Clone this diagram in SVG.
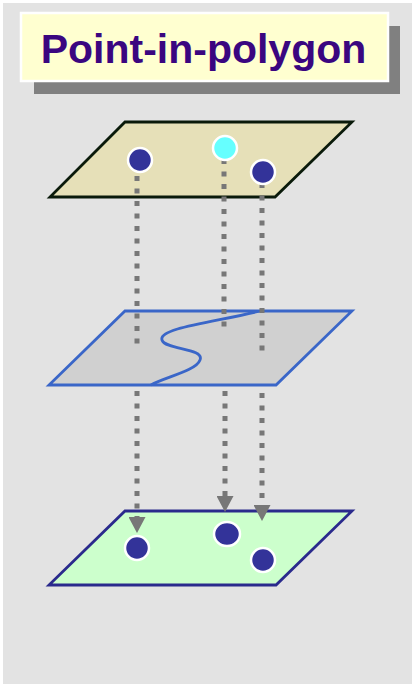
<svg xmlns="http://www.w3.org/2000/svg" width="416" height="687" viewBox="0 0 416 687">
<defs>
<style>
.bg{fill:#e3e3e3}
.title{font-family:"Liberation Sans",Arial,sans-serif;font-weight:bold;font-size:41px;fill:#3a0680}
.dot{fill:#333399;stroke:#ffffff;stroke-width:2.5}
.dotc{fill:#66ffff;stroke:#ffffff;stroke-width:2.5}
.conn{stroke:#777777;stroke-width:5;stroke-dasharray:5 7.5;fill:none}
.arr{stroke:#777777;stroke-width:5;stroke-dasharray:5 7.5;fill:none;marker-end:url(#ah)}
</style>
<marker id="ah" viewBox="0 0 10 10" refX="0" refY="5" markerUnits="userSpaceOnUse" markerWidth="16" markerHeight="17" orient="auto" preserveAspectRatio="none">
<path d="M0,0 L10,5 L0,10 z" fill="#777777"/>
</marker>
</defs>
<rect class="bg" x="3" y="3" width="409" height="681"/>
<g id="title">
<rect x="34" y="26" width="366" height="68" fill="#808080"/>
<rect x="21" y="13" width="367" height="68" fill="#ffffd0" stroke="#ffffff" stroke-width="2.5"/>
<text class="title" x="203.5" y="63" text-anchor="middle">Point-in-polygon</text>
</g>
<g id="layer-points">
<polygon points="125,122 352,122 275,197 50,197" fill="#e6e0b8" stroke="#0a1a0a" stroke-width="2.8"/>
</g>
<g id="layer-polygons">
<polygon points="125,311 352,311 276,385 49,385" fill="#d0d0d0" stroke="#3a66c8" stroke-width="2.8"/>
<path d="M260,311 C215,322 158,328 162,340 C165,350 205,348 200,360 C196,371 165,377 151,385" fill="none" stroke="#3a66c8" stroke-width="2.8"/>
</g>
<g id="layer-result">
<polygon points="125,511 352,511 276,585 49,585" fill="#ccffcc" stroke="#2a2a8c" stroke-width="2.8"/>
</g>
<g id="connectors">
<line class="conn" x1="137" y1="176" x2="137" y2="348"/>
<line class="conn" x1="224" y1="159" x2="224" y2="331"/>
<line class="conn" x1="262" y1="183" x2="262" y2="356"/>
<line class="arr" x1="137" y1="391" x2="137" y2="517"/>
<line class="arr" x1="225" y1="391" x2="225" y2="496"/>
<line class="arr" x1="262" y1="393" x2="262" y2="505"/>
</g>
<g id="points-top">
<circle class="dot" cx="140" cy="160" r="12"/>
<circle class="dotc" cx="225" cy="148" r="12"/>
<circle class="dot" cx="263" cy="172" r="12"/>
</g>
<g id="points-bottom">
<circle class="dot" cx="137" cy="548" r="12"/>
<ellipse class="dot" cx="227" cy="534" rx="13" ry="12"/>
<circle class="dot" cx="263" cy="560" r="12"/>
</g>
</svg>
